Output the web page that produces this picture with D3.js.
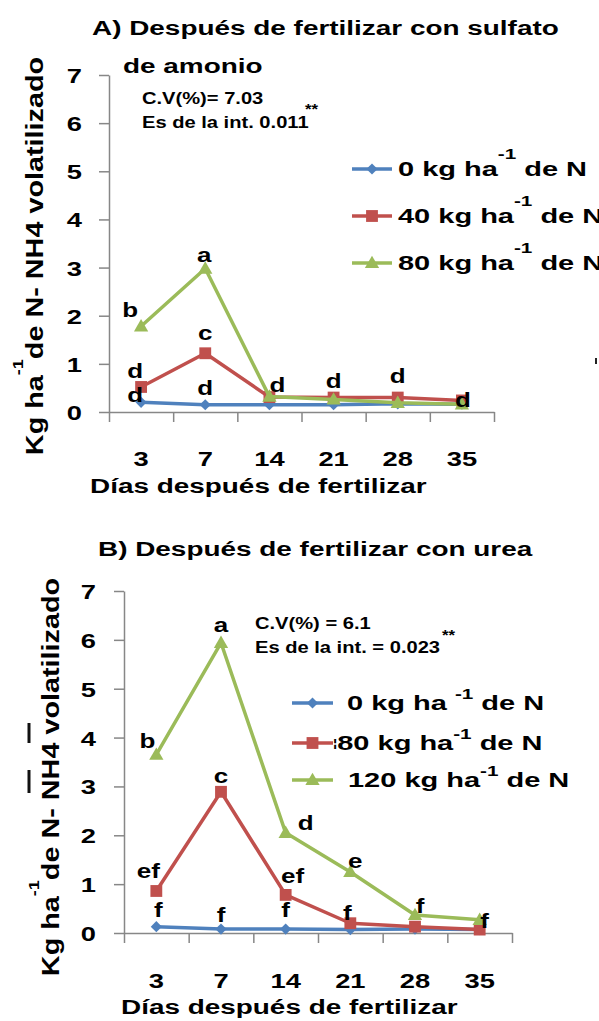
<!DOCTYPE html>
<html>
<head>
<meta charset="utf-8">
<script src="https://cdn.jsdelivr.net/npm/d3@7"></script>
<style>
body { margin: 0; background: #fff; }
svg { display: block; background: #fff; }
text { font-family: "Liberation Sans", Arial, sans-serif; font-weight: bold; fill: #000; }
</style>
</head>
<body>
<svg id="chart" width="599" height="1021"></svg>
<script>
// Shared categories / ticks
const days = ["3", "7", "14", "21", "28", "35"];
const yTicks = [0, 1, 2, 3, 4, 5, 6, 7];
const xTitle = "Días después de fertilizar";

// Panel A: sulfato de amonio
const titleA = ["A) Después de fertilizar con sulfato", "de amonio"];
const statsA = ["C.V(%)= 7.03", "Es de la int. 0.011"];
const legendA = ["0 kg ha", "40 kg ha", "80 kg ha"];
const a0 = [0.2, 0.15, 0.15, 0.15, 0.17, 0.16];
const a40 = [0.52, 1.22, 0.31, 0.3, 0.3, 0.24];
const a80 = [1.78, 2.98, 0.32, 0.26, 0.19, 0.16];
// [letter, day index, series index]
const lettersA = [
	["a", 1, 2], ["b", 0, 2], ["c", 1, 1], ["d", 0, 1], ["d", 0, 0],
	["d", 1, 0], ["d", 2, 2], ["d", 3, 2], ["d", 4, 1], ["d", 5, 2],
];

// Panel B: urea
const titleB = ["B) Después de fertilizar con urea"];
const statsB = ["C.V(%) = 6.1", "Es de la int. = 0.023"];
const legendB = ["0 kg ha ", "¦80 kg ha", "120 kg ha"];
const b0 = [0.13, 0.08, 0.08, 0.07, 0.08, 0.07];
const b80 = [0.86, 2.89, 0.78, 0.2, 0.13, 0.07];
const b120 = [3.65, 5.94, 2.05, 1.25, 0.37, 0.27];
const lettersB = [
	["a", 1, 2], ["b", 0, 2], ["c", 1, 1], ["d", 2, 2], ["e", 3, 2],
	["ef", 0, 1], ["ef", 2, 1], ["f", 0, 0], ["f", 1, 0], ["f", 2, 0],
	["f", 3, 1], ["f", 4, 2], ["f", 5, 2],
];

const colors = ["#4F81BD", "#C0504D", "#9BBB59"];
const axisColor = "#878787";
const SX = 1.3; // glyphs in the source are drawn wide

const svg = d3.select("#chart");

// text helper: wide glyphs via horizontal scale in the text's own frame
function label(g, x, y, size, str, anchor = "start", rot = false, sx = SX) {
	return g
		.append("text")
		.attr("transform", `translate(${x},${y})${rot ? " rotate(-90)" : ""} scale(${sx},1)`)
		.attr("font-size", size)
		.attr("text-anchor", anchor)
		.text(str);
}

const symbols = [
	d3.symbol(d3.symbolSquare, 62),
	d3.symbol(d3.symbolSquare, 140),
	d3.symbol(d3.symbolTriangle, 88),
];

function marker(g, i, x, y) {
	g.append("path")
		.attr("d", symbols[i]())
		.attr("transform", `translate(${x},${y + (i === 2 ? 1 : 0)})${i === 0 ? " rotate(45)" : ""}`)
		.attr("fill", colors[i]);
}

function drawPanel(p) {
	const g = svg.append("g");

	const x = d3.scaleBand().domain(days).range([p.x0, p.x1]);
	const xEdge = d3.scaleLinear().domain([0, days.length]).range([p.x0, p.x1]);
	const y = d3.scaleLinear().domain([0, 7]).range([p.yBot, p.yTop]);
	const cx = (d) => x(d) + x.bandwidth() / 2;

	// Titles
	p.title.forEach((t, i) => label(g, p.titlePos[i][0], p.titlePos[i][1], 21, t, "start", false, 1.33));

	// Y axis
	const ya = g
		.append("g")
		.attr("transform", `translate(${p.x0},0)`)
		.call(
			d3.axisLeft(y)
				.tickValues(yTicks)
				.tickSize(10)
				.tickSizeOuter(0)
				.tickFormat(d3.format("d"))
		);
	ya.selectAll("path, line").attr("stroke", axisColor).attr("stroke-width", 1.5);
	ya.selectAll("text")
		.attr("x", null)
		.attr("dy", null)
		.attr("font-size", 21)
		.attr("transform", `translate(${-p.yLabelGap},7.5) scale(${SX},1)`);

	// X axis: tick marks between categories, labels centred in each band
	const xa = g
		.append("g")
		.attr("transform", `translate(0,${p.yBot})`)
		.call(
			d3.axisBottom(xEdge)
				.tickValues(d3.range(days.length + 1))
				.tickSize(10)
				.tickSizeOuter(0)
				.tickFormat("")
		);
	xa.selectAll("path, line").attr("stroke", axisColor).attr("stroke-width", 1.5);

	days.forEach((d) => label(g, cx(d), p.xLabelY, 21, d, "middle"));
	label(g, p.xTitlePos[0], p.xTitlePos[1], 21, xTitle, "start", false, 1.33);

	// Y axis title
	const yt = label(g, p.yTitlePos[0], p.yTitlePos[1], 24, "", "middle", true, 1.2);
	yt.append("tspan").text("Kg ha");
	yt.append("tspan").attr("font-size", 15).attr("dy", -20).text("-1");
	yt.append("tspan").attr("dy", 20).text("de N- NH4 volatilizado");

	// Stats note
	label(g, p.statsPos[0], p.statsPos[1], 16.5, p.stats[0], "start", false, 1.22);
	label(g, p.statsPos[0], p.statsPos[1] + 24, 16.5, p.stats[1], "start", false, 1.22);
	label(g, p.starPos[0], p.starPos[1], 14, "**", "start", false, 1.2);

	// Series lines and markers
	const line = d3
		.line()
		.x((v, i) => cx(days[i]))
		.y((v) => y(v));

	p.series.forEach((vals, si) => {
		g.append("path")
			.attr("d", line(vals))
			.attr("fill", "none")
			.attr("stroke", colors[si])
			.attr("stroke-width", 3.5)
			.attr("stroke-linejoin", "round");
		vals.forEach((v, i) => marker(g, si, cx(days[i]), y(v)));
	});

	// Significance letters
	p.letters.forEach(([t, di, si], k) => {
		const [dx, dy] = p.nudge[k];
		label(g, cx(days[di]) + dx, y(p.series[si][di]) + dy, 20, t, "middle");
	});

	// Legend
	const L = p.legend;
	p.names.forEach((name, i) => {
		const ly = L.rows[i];
		g.append("line")
			.attr("x1", L.x0).attr("x2", L.x1)
			.attr("y1", ly).attr("y2", ly)
			.attr("stroke", colors[i])
			.attr("stroke-width", 3.5);
		marker(g, i, (L.x0 + L.x1) / 2, ly);
		const t = label(g, L.textX[i], ly + 7, 21, "", "start", false, 1.38);
		if (name.startsWith("¦")) {
			t.append("tspan").attr("font-size", 11).attr("dy", -3).text("¦");
			t.append("tspan").attr("dy", 3).text(name.slice(1));
		} else {
			t.append("tspan").text(name);
		}
		t.append("tspan").attr("font-size", 15).attr("dy", -L.raise).text("-1");
		t.append("tspan").attr("dy", L.raise).text(" de N");
	});
}

drawPanel({
	x0: 109, x1: 494, yTop: 75, yBot: 412,
	title: titleA, titlePos: [[92, 35], [123, 73]],
	yLabelGap: 27, xLabelY: 466, xTitlePos: [90, 493],
	yTitlePos: [43, 256],
	stats: statsA, statsPos: [142, 104], starPos: [305, 114],
	series: [a0, a40, a80],
	letters: lettersA,
	nudge: [[-1, -7], [-11, -9], [0, -13], [-6, -9], [-6, 0], [0, -10], [8, -5], [0, -11], [0, -15], [1, 3]],
	names: legendA,
	legend: { x0: 352, x1: 392, rows: [169, 216, 263], textX: [398, 398, 398], raise: 17 },
});

drawPanel({
	x0: 124, x1: 512, yTop: 591, yBot: 933,
	title: titleB, titlePos: [[98, 556]],
	yLabelGap: 28, xLabelY: 988, xTitlePos: [121, 1014],
	yTitlePos: [59, 777],
	stats: statsB, statsPos: [255, 629], starPos: [442, 640],
	series: [b0, b80, b120],
	letters: lettersB,
	nudge: [[0, -11], [-9, -7], [0, -9], [20, -3], [5, -4], [-8, -13], [7, -12], [2, -10], [0, -7], [0, -12], [-3, -3], [5, -2], [5, 8]],
	names: legendB,
	legend: { x0: 292, x1: 333, rows: [703, 743, 780], textX: [347, 333, 348], raise: 11 },
});

// stray marks in the source figure
svg.append("line").attr("x1", 29).attr("x2", 29).attr("y1", 723).attr("y2", 743).attr("stroke", "#111").attr("stroke-width", 3);
svg.append("line").attr("x1", 29).attr("x2", 29).attr("y1", 770).attr("y2", 793).attr("stroke", "#111").attr("stroke-width", 3);
svg.append("line").attr("x1", 596).attr("x2", 596).attr("y1", 358).attr("y2", 364).attr("stroke", "#222").attr("stroke-width", 2);
</script>
</body>
</html>
